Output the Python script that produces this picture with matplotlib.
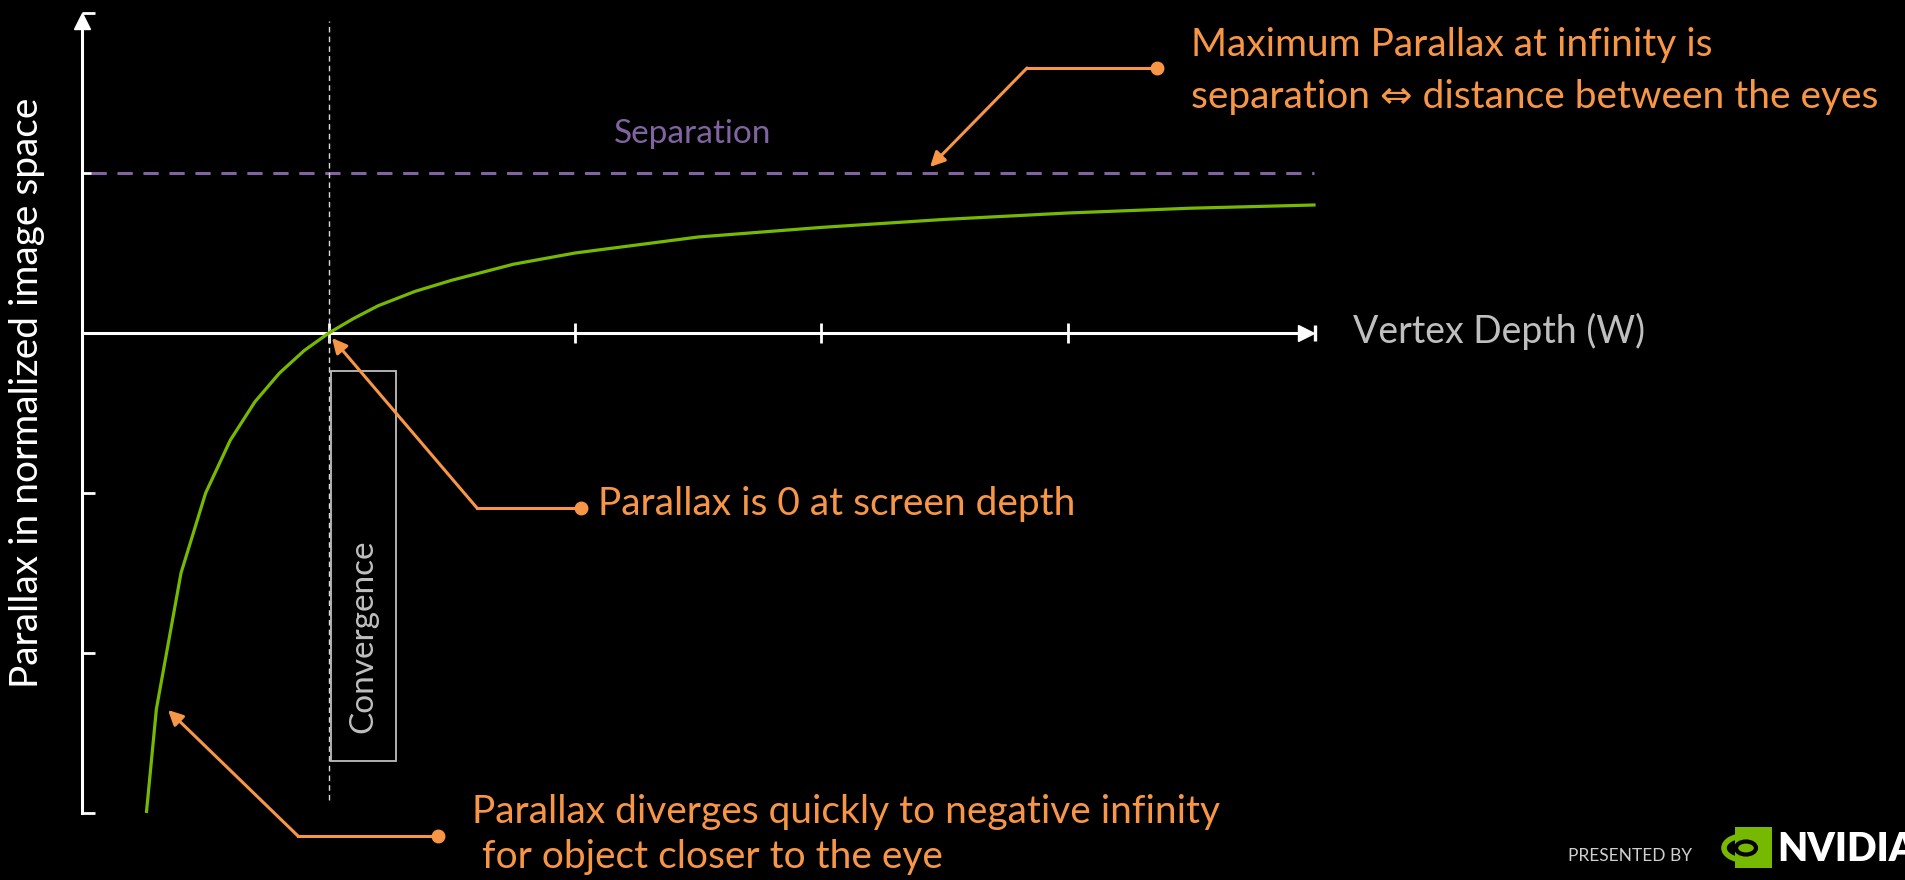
import matplotlib.pyplot as plt
from matplotlib.patches import Rectangle, Ellipse

# vertex depth W (convergence at 1) and parallax
depth = [0.26, 0.30, 0.40, 0.50, 0.60, 0.70, 0.80, 0.90, 1.00, 1.10, 1.20,
         1.35, 1.50, 1.75, 2.00, 2.50, 3.00, 3.50, 4.00, 4.50, 5.00]
parallax = [-2.99, -2.35, -1.50, -1.00, -0.67, -0.43, -0.25, -0.11, 0.00,
            0.09, 0.17, 0.26, 0.33, 0.43, 0.50, 0.60, 0.66, 0.71, 0.75,
            0.78, 0.80]
separation = 1.0
convergence = 1.0
x_ticks = [1, 2, 3, 4]
y_ticks = [2, 1, -1, -2, -3]

ORANGE = '#F79646'
PURPLE = '#8064A2'
GREEN = '#76B900'
GREY = '#BFBFBF'
FONT = ['Lato', 'DejaVu Sans']

plt.rcParams['font.family'] = FONT

W, H = 1906, 880
X0, XU = 82.5, 246.3   # pixel of w=0 and pixels per unit
Y0, YU = 333.0, 160.0


def px(x, y):  # slide pixel -> data coords
    return (x - X0) / XU, (Y0 - y) / YU


fig = plt.figure(figsize=(W / 100, H / 100), dpi=100, facecolor='black')
ax = fig.add_axes([0, 0, 1, 1], facecolor='black')
ax.set_xlim(px(0, 0)[0], px(W, 0)[0])
ax.set_ylim(px(0, H)[1], px(0, 0)[1])

# axes through the origin
for side in ['top', 'right']:
    ax.spines[side].set_visible(False)
ax.spines['left'].set_position(('data', 0))
ax.spines['bottom'].set_position(('data', 0))
ax.spines['left'].set_bounds(-3, 1.93)
ax.spines['bottom'].set_bounds(0, 4.96)
for side in ['left', 'bottom']:
    ax.spines[side].set_color('white')
    ax.spines[side].set_linewidth(2.2)
ax.set_xticks(x_ticks)
ax.set_yticks(y_ticks)
ax.tick_params(axis='x', direction='inout', length=14, width=2,
               colors='white', labelbottom=False)
ax.tick_params(axis='y', direction='in', length=9, width=2,
               colors='white', labelleft=False)
ax.plot([4.968], [0], marker='>', ms=11, color='white', clip_on=False)
ax.plot([5.004], [0], marker='|', ms=12, mew=2.4, color='white')
ax.plot([-0.003], [1.95], marker='^', ms=12, color='white')

# separation and convergence
ax.plot([0.035, 5.0], [separation, separation], color=PURPLE, lw=2.2,
        dashes=(5, 3.5))
ax.text(*px(693, 134), 'Separation', color=PURPLE, fontsize=24,
        ha='center', va='center')
ax.plot([convergence, convergence], [-2.92, 1.95], color='#D9D9D9', lw=1,
        dashes=(4, 3))
x1, y1 = px(331, 761)
x2, y2 = px(396, 371)
ax.add_patch(Rectangle((x1, y1), x2 - x1, y2 - y1, fill=False,
                       ec=GREY, lw=1.3))
ax.text(*px(363, 636), 'Convergence', color=GREY, fontsize=24,
        rotation=90, ha='center', va='center')

# parallax curve
ax.plot(depth, parallax, color=GREEN, lw=2.3, zorder=5)

# labels
ax.text(*px(1353, 331), 'Vertex Depth (W)', color=GREY, fontsize=27,
        ha='left', va='center')
ax.text(*px(27, 393), 'Parallax in normalized image space', color='white',
        fontsize=28, rotation=90, ha='center', va='center')


def callout(dot, corner, tip):
    d, c, t = px(*dot), px(*corner), px(*tip)
    ax.plot([d[0], c[0]], [d[1], c[1]], color=ORANGE, lw=2.2)
    ax.plot([d[0]], [d[1]], marker='o', ms=9, color=ORANGE)
    ax.annotate('', xy=t, xytext=c,
                arrowprops=dict(arrowstyle='-|>', color=ORANGE, lw=2.2,
                                mutation_scale=22, shrinkA=0, shrinkB=0))


callout((1157, 68), (1027, 68), (930, 167))
callout((581, 508), (477, 508), (332, 338))
callout((438, 836), (298, 836), (168, 710))

ax.text(*px(1191, 45), 'Maximum Parallax at infinity is', color=ORANGE,
        fontsize=28, ha='left', va='center')
ax.text(*px(1191, 97), 'separation \u21d4 distance between the eyes',
        color=ORANGE, fontsize=28, ha='left', va='center')
ax.text(*px(598, 504), 'Parallax is 0 at screen depth', color=ORANGE,
        fontsize=28, ha='left', va='center')
ax.text(*px(472, 812), 'Parallax diverges quickly to negative infinity',
        color=ORANGE, fontsize=28, ha='left', va='center')
ax.text(*px(472, 857), ' for object closer to the eye', color=ORANGE,
        fontsize=28, ha='left', va='center')

# presented by NVIDIA
ax.text(*px(1568, 856), 'PRESENTED BY', color='#D0D0D0', fontsize=12.5,
        ha='left', va='center')
lx1, ly1 = px(1735, 868)
lx2, ly2 = px(1772, 827)
ax.add_patch(Rectangle((lx1, ly1), lx2 - lx1, ly2 - ly1, color=GREEN, lw=0))
ex, ey = px(1744, 848)
ax.add_patch(Ellipse((ex, ey), 40 / XU, 24 / YU, fill=False, ec=GREEN, lw=4))
ax.add_patch(Ellipse((ex + 2 / XU, ey), 20 / XU, 13 / YU, fill=False,
                     ec='black', lw=3))
ax.text(*px(1777, 849), 'NVIDIA', color='white', fontsize=28,
        fontweight='heavy', ha='left', va='center')

fig.savefig('out.png', dpi=100, facecolor='black')
